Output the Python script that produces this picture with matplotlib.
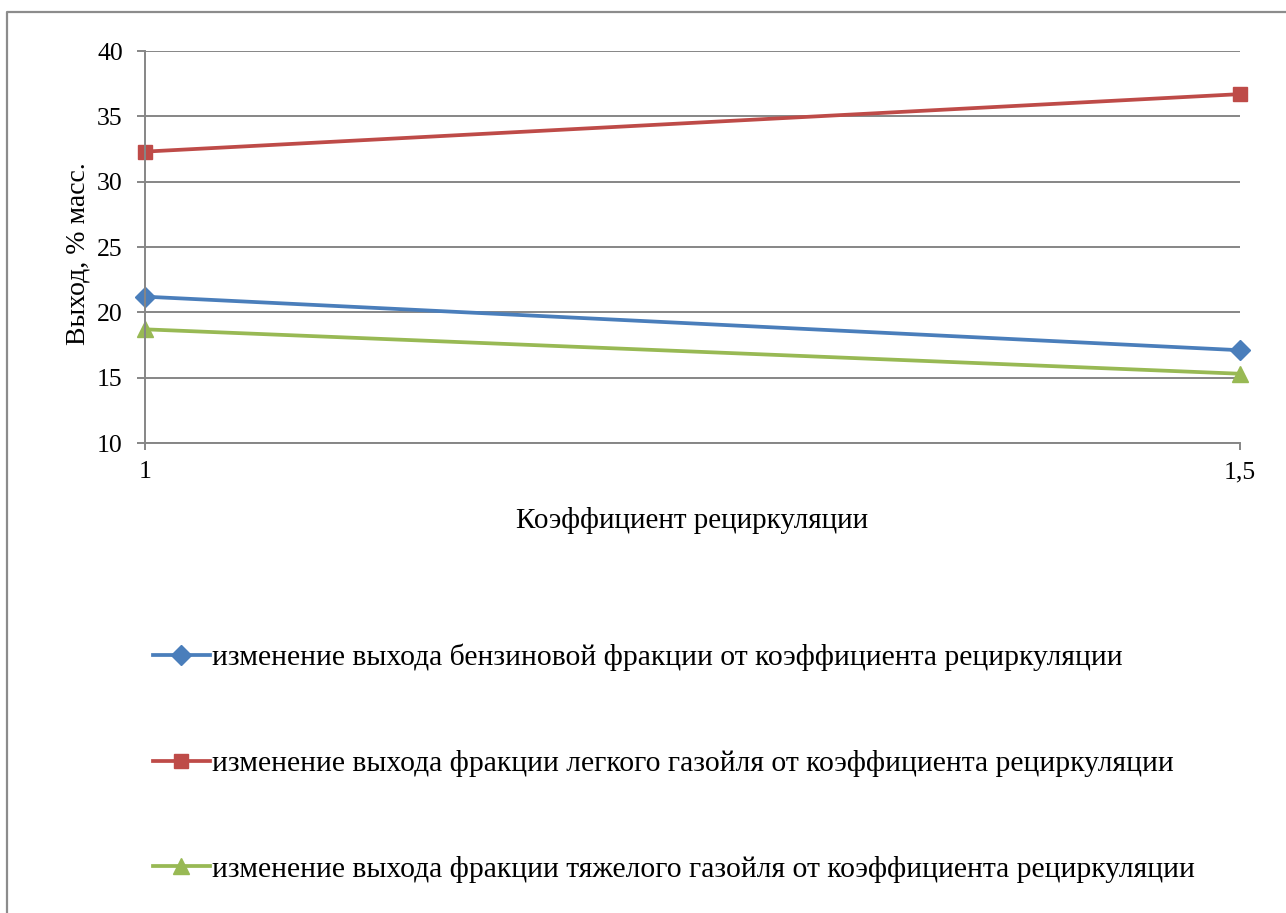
import matplotlib
matplotlib.use("Agg")
import matplotlib.pyplot as plt
from matplotlib.lines import Line2D

plt.rcParams['font.family'] = ['Liberation Serif', 'DejaVu Serif']

# Коэффициент рециркуляции и выход фракций, % масс.
recycle_labels = ["1", "1,5"]
gasoline = [21.2, 17.1]
light_gasoil = [32.3, 36.7]
heavy_gasoil = [18.7, 15.3]

series_names = [
    "изменение выхода бензиновой фракции от коэффициента рециркуляции",
    "изменение выхода фракции легкого газойля от коэффициента рециркуляции",
    "изменение выхода фракции тяжелого газойля от коэффициента рециркуляции",
]

W, H = 1286, 913
fig = plt.figure(figsize=(W / 100, H / 100), dpi=100)
ax = fig.add_axes([145 / W, 1 - 443 / H, (1240 - 145) / W, (443 - 51) / H])

grid_c = "#868686"
x = list(range(len(recycle_labels)))
ax.plot(x, gasoline, color="#4A7EBB", lw=2.7, marker="D", ms=10, label=series_names[0], clip_on=False)
ax.plot(x, light_gasoil, color="#BE4B48", lw=2.7, marker="s", ms=10, label=series_names[1], clip_on=False)
ax.plot(x, heavy_gasoil, color="#98B954", lw=2.7, marker="^", ms=11.5, label=series_names[2], clip_on=False)

ax.set_xlim(0, 1)
ax.set_ylim(10, 40)
ax.set_yticks(range(10, 41, 5))
ax.set_xticks(x)
ax.set_xticklabels(recycle_labels)
ax.yaxis.grid(True, color=grid_c, lw=1.4)
ax.set_axisbelow(True)
for s in ("top", "right"):
    ax.spines[s].set_visible(False)
for s in ("left", "bottom"):
    ax.spines[s].set_color(grid_c)
    ax.spines[s].set_linewidth(1.4)
ax.tick_params(axis="y", length=6, width=1.4, color=grid_c, labelsize=18.5, pad=10)
ax.tick_params(axis="x", length=5, width=1.4, color=grid_c, labelsize=18.5, pad=8)

ax.set_xlabel("Коэффициент рециркуляции", fontsize=21, labelpad=17)
ax.set_ylabel("Выход, % масс.", fontsize=20)
ax.yaxis.set_label_coords(-0.050, 0.482)

leg = fig.legend(loc="upper left", bbox_to_anchor=(141 / W, 1 - 632 / H), frameon=False,
                 fontsize=21.3, handlelength=1.93, handletextpad=0.07, labelspacing=2.66,
                 borderaxespad=0)

# рамка области диаграммы
fig.add_artist(Line2D([7 / W, 7 / W, 1.0], [0.0, 1 - 12 / H, 1 - 12 / H],
                      transform=fig.transFigure, color="#8c8c8c", lw=1.6))

fig.savefig("out.png", dpi=100)
